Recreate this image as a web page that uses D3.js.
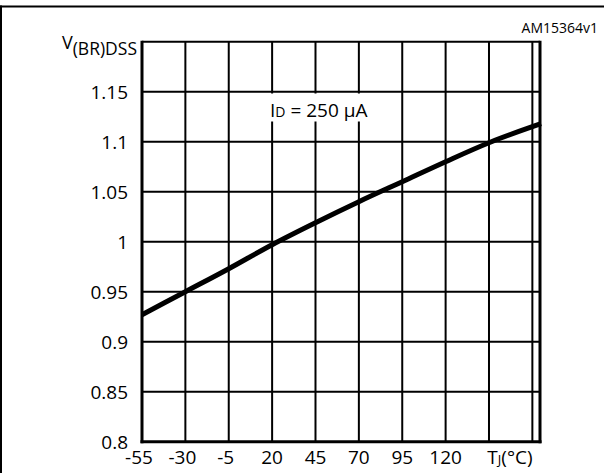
<!DOCTYPE html>
<html>
<head>
<meta charset="utf-8">
<script src="https://cdn.jsdelivr.net/npm/d3@7"></script>
<style>
  body { margin: 0; background: #fff; }
  text { font-family: "Open Sans", sans-serif; fill: #000; }
</style>
</head>
<body>
<div id="chart"></div>
<script>
// datos del grafico
const temps = [-55, -30, -5, 20, 45, 70, 95, 120, 145, 170, 175];
const vbr = [0.927, 0.950, 0.973, 0.997, 1.019, 1.040, 1.060, 1.080, 1.099, 1.115, 1.118];
const xTicks = [-55, -30, -5, 20, 45, 70, 95, 120];
const xGrid = [-30, -5, 20, 45, 70, 95, 120, 145, 170];
const yTicks = [0.8, 0.85, 0.9, 0.95, 1, 1.05, 1.1, 1.15];
const yGrid = [0.85, 0.9, 0.95, 1, 1.05, 1.1, 1.15];

const width = 604;
const height = 473;
const margin = { top: 41.7, right: 64, bottom: 31.3, left: 142 };

const svg = d3.select('#chart')
    .append('svg')
    .attr('width', width)
    .attr('height', height);

// marco exterior (solo arriba e izquierda)
svg.append('line').attr('x1', 1).attr('x2', 1).attr('y1', 5.5).attr('y2', height)
    .attr('stroke', '#000').attr('stroke-width', 2);
svg.append('line').attr('x1', 0).attr('x2', width).attr('y1', 6.5).attr('y2', 6.5)
    .attr('stroke', '#000').attr('stroke-width', 2);

const x = d3.scaleLinear()
    .domain([-55, 174.4])
    .range([margin.left, width - margin.right]);

const y = d3.scaleLinear()
    .domain([0.8, 1.2])
    .range([height - margin.bottom, margin.top]);

// rejilla
svg.append('g').selectAll('line')
    .data(xGrid)
    .enter().append('line')
    .attr('x1', d => x(d)).attr('x2', d => x(d))
    .attr('y1', y(1.2)).attr('y2', y(0.8))
    .attr('stroke', '#000').attr('stroke-width', 2);

svg.append('g').selectAll('line')
    .data(yGrid)
    .enter().append('line')
    .attr('x1', x(-55)).attr('x2', x(174.4))
    .attr('y1', d => y(d)).attr('y2', d => y(d))
    .attr('stroke', '#000').attr('stroke-width', 2);

// recuadro del area
svg.append('line').attr('x1', x(-55)).attr('x2', x(174.4)).attr('y1', y(1.2)).attr('y2', y(1.2))
    .attr('stroke', '#000').attr('stroke-width', 2);
svg.append('line').attr('x1', x(-55)).attr('x2', x(-55)).attr('y1', y(1.2) - 1).attr('y2', y(0.8) + 1.5)
    .attr('stroke', '#000').attr('stroke-width', 3);
svg.append('line').attr('x1', x(174.4)).attr('x2', x(174.4)).attr('y1', y(1.2) - 1).attr('y2', y(0.8) + 1.5)
    .attr('stroke', '#000').attr('stroke-width', 3);
svg.append('line').attr('x1', x(-55) - 1.5).attr('x2', x(174.4) + 1.5).attr('y1', y(0.8)).attr('y2', y(0.8))
    .attr('stroke', '#000').attr('stroke-width', 3);

// etiqueta ID con fondo blanco
svg.append('rect')
    .attr('x', 265).attr('y', 93.5)
    .attr('width', 108).attr('height', 28)
    .attr('fill', '#fff');
const idLabel = svg.append('text')
    .attr('x', 270).attr('y', 116.5)
    .style('font-size', '19px');
idLabel.append('tspan').text('I');
idLabel.append('tspan').style('font-size', '14px').text('D');
idLabel.append('tspan').text(' = 250 µA');

// curva
const line = d3.line()
    .x((d, i) => x(temps[i]))
    .y(d => y(d))
    .curve(d3.curveMonotoneX);

svg.append('path')
    .datum(vbr)
    .attr('fill', 'none')
    .attr('stroke', '#000')
    .attr('stroke-width', 5)
    .attr('d', line);

// etiquetas eje Y
svg.append('g').selectAll('text')
    .data(yTicks)
    .enter().append('text')
    .attr('x', 128)
    .attr('y', d => y(d))
    .attr('dy', '0.36em')
    .attr('text-anchor', 'end')
    .style('font-size', '19px')
    .text(d => d3.format('')(d));

const yTitle = svg.append('text')
    .attr('x', 137).attr('y', 49)
    .attr('text-anchor', 'end')
    .style('font-size', '17.5px');
yTitle.append('tspan').style('font-size', '18px').text('V');
yTitle.append('tspan').attr('dy', 6).text('(BR)DSS');

// etiquetas eje X
svg.append('g').selectAll('text')
    .data(xTicks)
    .enter().append('text')
    .attr('x', d => x(d) - (d < 0 ? 3 : 0))
    .attr('y', 463.5)
    .attr('text-anchor', 'middle')
    .style('font-size', '19px')
    .text(d => d);

const xTitle = svg.append('text')
    .attr('x', 510).attr('y', 463.5)
    .attr('text-anchor', 'middle')
    .style('font-size', '19px');
xTitle.append('tspan').text('T');
xTitle.append('tspan').style('font-size', '13px').text('J');
xTitle.append('tspan').text('(°C)');

svg.append('text')
    .attr('x', 598).attr('y', 33)
    .attr('text-anchor', 'end')
    .style('font-size', '14px')
    .text('AM15364v1');
</script>
</body>
</html>
